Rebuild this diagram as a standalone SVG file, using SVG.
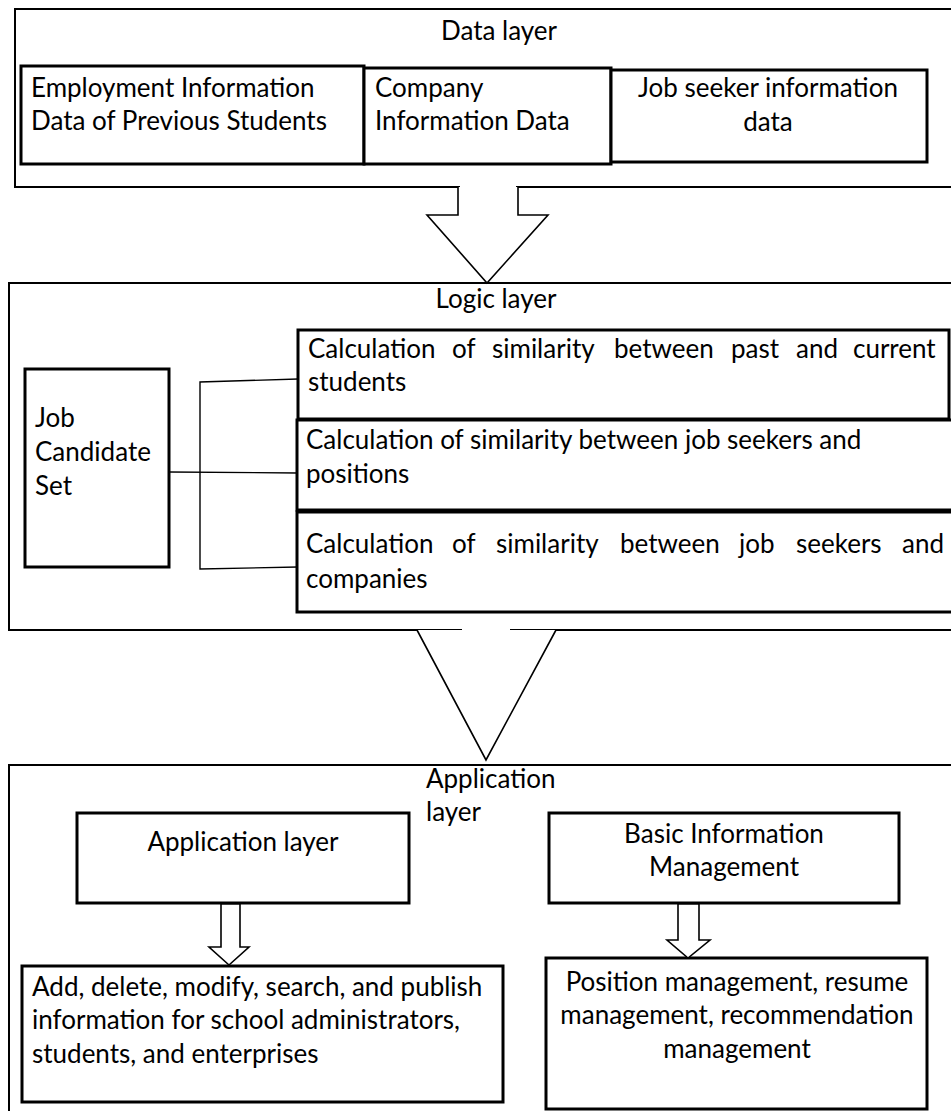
<svg xmlns="http://www.w3.org/2000/svg" width="951" height="1111" viewBox="0 0 951 1111">
<style>
text{font-family:Lato,"Liberation Sans",sans-serif;font-size:26px;fill:#000}
.c{text-anchor:middle}
.layer{fill:none;stroke:#000;stroke-width:2}
.box{fill:#fff;stroke:#000;stroke-width:3}
.arr{fill:#fff;stroke:#000;stroke-width:1.6;stroke-linejoin:miter}
.ln{fill:none;stroke:#000;stroke-width:1.4}
</style>
<rect width="951" height="1111" fill="#fff"/>

<g id="data-layer">
<path class="layer" d="M460,187 H15 V9 H955 V187 H516"/>
<text class="c" x="499" y="40">Data layer</text>
</g>
<g id="employment-data">
<rect class="box" x="21" y="66" width="343" height="98"/>
<text x="31" y="97">Employment Information</text>
<text x="31" y="130">Data of Previous Students</text>
</g>
<g id="company-data">
<rect class="box" x="364" y="68" width="247" height="96"/>
<text x="375" y="97">Company</text>
<text x="375" y="130">Information Data</text>
</g>
<g id="jobseeker-data">
<rect class="box" x="611" y="70" width="316" height="92"/>
<text class="c" x="768" y="97">Job seeker information</text>
<text class="c" x="768" y="131">data</text>
</g>

<g id="logic-layer">
<path class="layer" d="M462,630 H9 V283 H955 M955,630 H510"/>
<text class="c" x="496" y="308">Logic layer</text>
</g>
<g id="job-candidate-set">
<rect class="box" x="25" y="369" width="144" height="198"/>
<text x="35" y="427">Job</text>
<text x="35" y="461">Candidate</text>
<text x="35" y="495">Set</text>
</g>
<g id="calc-past-current">
<rect class="box" x="298" y="330" width="651" height="89"/>
<text y="358"><tspan x="308">Calculation</tspan><tspan x="452">of</tspan><tspan x="492">similarity</tspan><tspan x="614">between</tspan><tspan x="731">past</tspan><tspan x="796">and</tspan><tspan x="853">current</tspan></text>
<text x="308" y="391">students</text>
</g>
<g id="calc-seekers-positions">
<rect class="box" x="297" y="420" width="660" height="90"/>
<text x="306" y="449">Calculation of similarity between job seekers and</text>
<text x="306" y="483">positions</text>
</g>
<g id="calc-seekers-companies">
<rect class="box" x="297" y="512" width="660" height="100"/>
<text y="553"><tspan x="306">Calculation</tspan><tspan x="452">of</tspan><tspan x="496">similarity</tspan><tspan x="620">between</tspan><tspan x="739">job</tspan><tspan x="796">seekers</tspan><tspan x="902">and</tspan></text>
<text x="306" y="588">companies</text>
</g>

<g id="application-layer">
<path class="layer" d="M9,1115 V765 H955"/>
<text x="426" y="788">Application</text>
<text x="426" y="821">layer</text>
</g>
<g id="application-layer-box">
<rect class="box" x="77" y="813" width="332" height="90"/>
<text class="c" x="243" y="851">Application layer</text>
</g>
<g id="basic-info-management">
<rect class="box" x="549" y="813" width="350" height="90"/>
<text class="c" x="724" y="843">Basic Information</text>
<text class="c" x="724" y="876">Management</text>
</g>
<g id="crud-info">
<rect class="box" x="22" y="966" width="481" height="136"/>
<text x="32" y="996">Add, delete, modify, search, and publish</text>
<text x="32" y="1029">information for school administrators,</text>
<text x="32" y="1063">students, and enterprises</text>
</g>
<g id="position-resume-management">
<rect class="box" x="546" y="958" width="381" height="151"/>
<text class="c" x="737" y="991">Position management, resume</text>
<text class="c" x="737" y="1024">management, recommendation</text>
<text class="c" x="737" y="1058">management</text>
</g>

<g id="connectors">
<polyline class="arr" points="458,187 458,215 427,215 487,283 548,215 518,215 518,187"/>
<polyline class="arr" points="417,630 486,760 556,630"/>
<polyline class="ln" points="298,379 200,382 200,569 298,567"/>
<line class="ln" x1="169" y1="472" x2="298" y2="473"/>
<polygon class="arr" points="221,904 240,904 240,947 249,947 229,965 209,947 221,947"/>
<polygon class="arr" points="678,904 699,904 699,940 710,940 688,958 667,940 678,940"/>
</g>
</svg>
